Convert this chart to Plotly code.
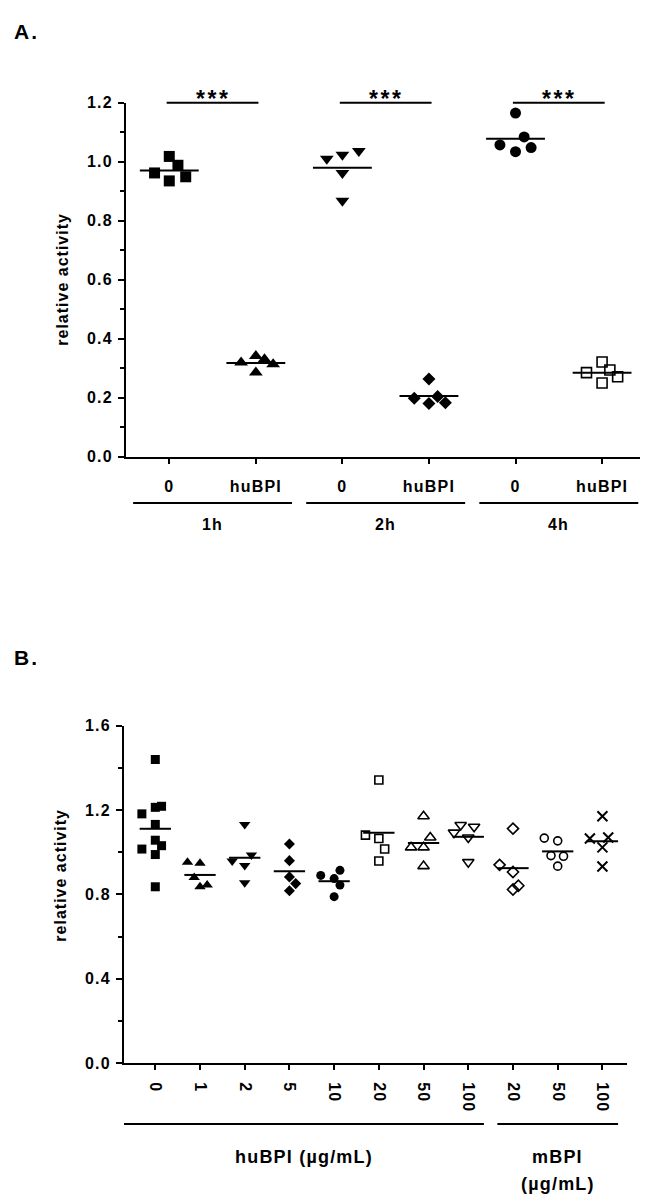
import numpy as np
import plotly.graph_objects as go

# ---------------- data: panel A ----------------
a_categories = ["0", "huBPI", "0", "huBPI", "0", "huBPI"]
a_groups = ["1h", "2h", "4h"]
a_values = [
    [0.962, 1.018, 0.988, 0.935, 0.949],   # 1h, 0
    [0.319, 0.341, 0.330, 0.313, 0.285],   # 1h, huBPI
    [1.010, 1.024, 1.036, 0.962, 0.868],   # 2h, 0
    [0.263, 0.198, 0.180, 0.204, 0.183],   # 2h, huBPI
    [1.165, 1.084, 1.057, 1.034, 1.048],   # 4h, 0
    [0.285, 0.321, 0.294, 0.271, 0.250],   # 4h, huBPI
]
a_jitter = [
    [-0.17, 0.0, 0.10, 0.0, 0.19],
    [-0.17, 0.0, 0.10, 0.20, 0.0],
    [-0.18, 0.0, 0.19, 0.0, 0.0],
    [0.0, -0.17, 0.0, 0.10, 0.19],
    [0.0, 0.10, -0.18, 0.0, 0.18],
    [-0.18, 0.0, 0.09, 0.18, 0.0],
]
a_sig_pairs = [(0, 1), (2, 3), (4, 5)]
a_sig_labels = ["***", "***", "***"]
a_yticks = [0.0, 0.2, 0.4, 0.6, 0.8, 1.0, 1.2]
a_yminor = [0.1, 0.3, 0.5, 0.7, 0.9, 1.1]

# ---------------- data: panel B ----------------
b_categories = ["0", "1", "2", "5", "10", "20", "50", "100", "20", "50", "100"]
b_groups = ["huBPI (µg/mL)", "mBPI"]
b_group_sub = ["", "(µg/mL)"]
b_group_members = [(0, 7), (8, 10)]
b_values = [
    [1.440, 1.182, 1.213, 1.218, 1.132, 1.057, 1.015, 1.031, 0.989, 0.836],
    [0.953, 0.948, 0.880, 0.836, 0.844],
    [0.958, 1.132, 0.987, 0.937, 0.855],
    [1.039, 0.960, 0.883, 0.851, 0.817],
    [0.890, 0.914, 0.875, 0.844, 0.789],
    [1.343, 1.081, 1.065, 1.015, 0.958],
    [1.171, 1.070, 1.023, 1.023, 0.934],
    [1.129, 1.121, 1.093, 1.070, 0.953],
    [1.112, 0.940, 0.906, 0.841, 0.823],
    [1.067, 1.054, 0.984, 0.981, 0.934],
    [1.171, 1.065, 1.070, 1.023, 0.932],
]
b_jitter = [
    [0.0, -0.30, 0.0, 0.14, 0.0, 0.0, -0.30, 0.14, 0.0, 0.0],
    [-0.28, 0.0, -0.13, 0.0, 0.16],
    [-0.28, 0.0, 0.15, 0.0, 0.0],
    [0.0, 0.0, 0.0, 0.14, 0.0],
    [-0.30, 0.13, 0.0, 0.13, 0.0],
    [0.0, -0.30, 0.0, 0.13, 0.0],
    [0.0, 0.15, -0.28, 0.0, 0.0],
    [-0.17, 0.13, -0.32, 0.0, 0.0],
    [0.0, -0.30, 0.0, 0.12, 0.0],
    [-0.30, 0.0, -0.15, 0.13, 0.0],
    [0.0, -0.28, 0.13, 0.0, 0.0],
]
b_yticks = [0.0, 0.4, 0.8, 1.2, 1.6]
b_yminor = [0.2, 0.6, 1.0, 1.4]

y_title = "relative activity"

# ---------------- styling / geometry ----------------
W, H = 648, 1199
FONT = "Liberation Sans, Arial, sans-serif"
BLACK = "black"

A_DX, A_DY = (118, 646), (88, 447)      # plot-area pixels
A_XR, A_YR = [-0.5, 5.6], [0, 1.2]
B_DX, B_DY = (116, 619), (720, 1062)
B_XR, B_YR = [-0.7, 10.55], [0, 1.6]


def px_x(p):
    return p / W


def px_y(p):
    return 1 - p / H


def sp(text, ls=1.2):
    return f'<span style="letter-spacing:{ls}px">{text}</span>'


def font(size):
    return dict(family=FONT, size=size, color=BLACK, weight="bold")


a_symbols = ["square", "triangle-up", "triangle-down", "diamond", "circle", "square-open"]
a_sizes = [11, 12, 12, 10, 11, 10]
b_symbols = ["square", "triangle-up", "triangle-down", "diamond", "circle", "square-open",
             "triangle-up-open", "triangle-down-open", "diamond-open", "circle-open", "x-thin-open"]
b_sizes = [9, 10, 10, 8.5, 9, 8, 10, 10, 8.5, 8, 10]

fig = go.Figure()


def add_panel(values, jitter, symbols, sizes, xa, ya, half):
    for i, (vals, jit) in enumerate(zip(values, jitter)):
        sym = symbols[i]
        is_open = sym.endswith("-open")
        fig.add_trace(go.Scatter(
            x=[i + j for j in jit], y=vals, mode="markers", xaxis=xa, yaxis=ya,
            cliponaxis=False, showlegend=False, hoverinfo="skip",
            marker=dict(symbol=sym, size=sizes[i], color=BLACK,
                        line=dict(color=BLACK, width=(2 if "x-thin" in sym else 1.6) if is_open else 0)),
        ))
        m = float(np.mean(vals))
        fig.add_trace(go.Scatter(
            x=[i - half, i + half], y=[m, m], mode="lines", xaxis=xa, yaxis=ya,
            cliponaxis=False, showlegend=False, hoverinfo="skip",
            line=dict(color=BLACK, width=2),
        ))


add_panel(a_values, a_jitter, a_symbols, a_sizes, "x", "y", 0.34)
add_panel(b_values, b_jitter, b_symbols, b_sizes, "x2", "y2", 0.35)

common_axis = dict(showline=True, linewidth=2, linecolor=BLACK, ticks="outside",
                   tickwidth=2, tickcolor=BLACK, showgrid=False, zeroline=False,
                   fixedrange=True)

fig.update_layout(
    width=W, height=H, autosize=False,
    margin=dict(l=0, r=0, t=0, b=0),
    paper_bgcolor="white", plot_bgcolor="white",
    xaxis=dict(domain=[px_x(A_DX[0]), px_x(A_DX[1])], range=A_XR, anchor="y",
               tickmode="array", tickvals=list(range(len(a_categories))),
               ticktext=[sp(c) for c in a_categories], tickfont=font(16),
               ticklen=5, ticklabelstandoff=9, **common_axis),
    yaxis=dict(domain=[px_y(A_DY[1]), px_y(A_DY[0])], range=A_YR, anchor="x",
               tickmode="array", tickvals=a_yticks,
               ticktext=[sp(f"{v:.1f}") for v in a_yticks], tickfont=font(16),
               ticklen=6, ticklabelstandoff=2,
               minor=dict(tickmode="array", tickvals=a_yminor, ticks="outside",
                          ticklen=4, tickwidth=2, tickcolor=BLACK, showgrid=False),
               **common_axis),
    xaxis2=dict(domain=[px_x(B_DX[0]), px_x(B_DX[1])], range=B_XR, anchor="y2",
                tickmode="array", tickvals=list(range(len(b_categories))),
                ticktext=[sp(c) for c in b_categories], tickfont=font(16),
                tickangle=90, ticklen=5, ticklabelstandoff=9, **common_axis),
    yaxis2=dict(domain=[px_y(B_DY[1]), px_y(B_DY[0])], range=B_YR, anchor="x2",
                tickmode="array", tickvals=b_yticks,
                ticktext=[sp(f"{v:.1f}") for v in b_yticks], tickfont=font(16),
                ticklen=6, ticklabelstandoff=2,
                minor=dict(tickmode="array", tickvals=b_yminor, ticks="outside",
                           ticklen=4, tickwidth=2, tickcolor=BLACK, showgrid=False),
                **common_axis),
)

shapes = []
annotations = []

# panel letters
annotations.append(dict(text=sp("A.", 2), x=px_x(4), y=px_y(16), xref="paper", yref="paper",
                        xanchor="left", yanchor="middle", showarrow=False, font=font(21)))
annotations.append(dict(text=sp("B.", 2), x=px_x(4), y=px_y(651), xref="paper", yref="paper",
                        xanchor="left", yanchor="middle", showarrow=False, font=font(21)))

# y titles
annotations.append(dict(text=sp(y_title, 1.0), x=px_x(55), y=px_y((A_DY[0] + A_DY[1]) / 2),
                        xref="paper", yref="paper", textangle=-90, showarrow=False,
                        xanchor="center", yanchor="middle", font=font(16)))
annotations.append(dict(text=sp(y_title, 1.0), x=px_x(53), y=px_y(872),
                        xref="paper", yref="paper", textangle=-90, showarrow=False,
                        xanchor="center", yanchor="middle", font=font(16)))

# significance bars (panel A)
for (i0, i1), lab in zip(a_sig_pairs, a_sig_labels):
    shapes.append(dict(type="line", xref="x", yref="paper", x0=i0 - 0.03, x1=i1 + 0.03,
                       y0=px_y(A_DY[0]), y1=px_y(A_DY[0]), line=dict(color=BLACK, width=2)))
    annotations.append(dict(text=sp(lab, 2.5), x=(i0 + i1) / 2, y=px_y(84), xref="x", yref="paper",
                            xanchor="center", yanchor="middle", showarrow=False, font=font(23)))

# group lines panel A
A_PAD = 0.418
for g, lab in enumerate(a_groups):
    i0, i1 = 2 * g, 2 * g + 1
    x0 = max(i0 - A_PAD, A_XR[0])
    x1 = i1 + A_PAD
    shapes.append(dict(type="line", xref="x", yref="paper", x0=x0, x1=x1,
                       y0=px_y(494), y1=px_y(494), line=dict(color=BLACK, width=2)))
    annotations.append(dict(text=sp(lab), x=(x0 + x1) / 2, y=px_y(516), xref="x", yref="paper",
                            xanchor="center", yanchor="middle", showarrow=False, font=font(16)))

# group lines panel B
B_PAD = 0.35
for g, ((i0, i1), lab, sub) in enumerate(zip(b_group_members, b_groups, b_group_sub)):
    x0 = B_XR[0] if g == 0 else i0 - B_PAD
    x1 = i1 + B_PAD
    shapes.append(dict(type="line", xref="x2", yref="paper", x0=x0, x1=x1,
                       y0=px_y(1124), y1=px_y(1124), line=dict(color=BLACK, width=2)))
    annotations.append(dict(text=sp(lab), x=(x0 + x1) / 2, y=px_y(1157), xref="x2", yref="paper",
                            xanchor="center", yanchor="middle", showarrow=False, font=font(18)))
    if sub:
        annotations.append(dict(text=sp(sub), x=(x0 + x1) / 2, y=px_y(1185), xref="x2", yref="paper",
                                xanchor="center", yanchor="middle", showarrow=False, font=font(18)))

fig.update_layout(shapes=shapes, annotations=annotations)

fig.write_html("out.html")
